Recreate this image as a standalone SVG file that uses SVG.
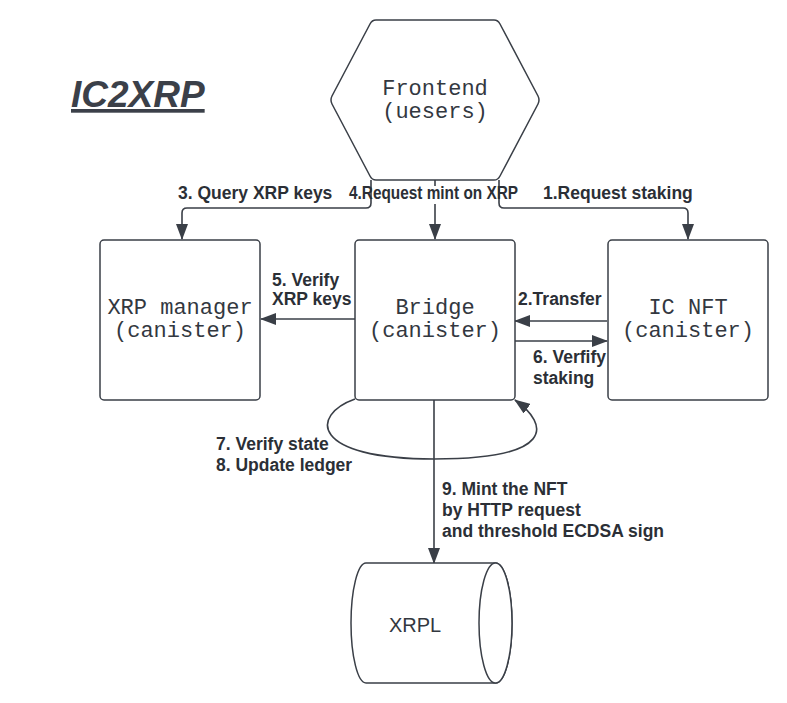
<svg xmlns="http://www.w3.org/2000/svg" width="787" height="703" viewBox="0 0 787 703">
<style>
  .shape { fill: #ffffff; stroke: #3a3f47; stroke-width: 1.5; }
  .node-text { font-family: "Liberation Mono", "DejaVu Sans Mono", monospace; font-size: 22px; fill: #33383f; text-anchor: middle; }
  .lbl { font-family: "Liberation Sans", Arial, sans-serif; font-weight: bold; font-size: 17.5px; fill: #2b2f36; }
  .conn { fill: none; stroke: #3a3f47; stroke-width: 1.6; }
</style>
<defs>
  <marker id="arrow" viewBox="0 0 16 12" refX="15" refY="6" markerWidth="16" markerHeight="12" markerUnits="userSpaceOnUse" orient="auto">
    <path d="M0,0 L16,6 L0,12 Z" fill="#3a3f47"/>
  </marker>
</defs>
<rect width="787" height="703" fill="#ffffff"/>

<text id="title" x="71" y="107" font-family="Liberation Sans, Arial, sans-serif" font-weight="bold" font-style="italic" font-size="37" fill="#3b4049" text-decoration="underline">IC2XRP</text>

<g id="connectors">
  <path class="conn" d="M371,180 V203 Q371,208 366,208 H187 Q182,208 182,213 V239" marker-end="url(#arrow)"/>
  <path class="conn" d="M435,180 V186"/>
  <path class="conn" d="M435,204 V239" marker-end="url(#arrow)"/>
  <path class="conn" d="M499,180 V203 Q499,208 504,208 H683 Q688,208 688,213 V239" marker-end="url(#arrow)"/>
  <path class="conn" d="M355,319 H261" marker-end="url(#arrow)"/>
  <path class="conn" d="M607,321 H515" marker-end="url(#arrow)"/>
  <path class="conn" d="M515,341 H607" marker-end="url(#arrow)"/>
  <path class="conn" d="M355,399 C310,415 310,459 434,459 C555,459 550,425 515,400" marker-end="url(#arrow)"/>
  <path class="conn" d="M434,400 V563" marker-end="url(#arrow)"/>
  <text class="lbl" x="178" y="199">3. Query XRP keys</text>
  <text class="lbl" x="349" y="199" font-size="15" textLength="169" lengthAdjust="spacingAndGlyphs">4.Request mint on XRP</text>
  <text class="lbl" x="543" y="199">1.Request staking</text>
  <text class="lbl" x="272" y="286" font-size="15">5. Verify</text>
  <text class="lbl" x="272" y="305" font-size="15">XRP keys</text>
  <text class="lbl" x="518" y="305">2.Transfer</text>
  <text class="lbl" x="533" y="363">6. Verfify</text>
  <text class="lbl" x="533" y="384">staking</text>
  <text class="lbl" x="216" y="450">7. Verify state</text>
  <text class="lbl" x="216" y="471">8. Update ledger</text>
  <text class="lbl" x="442" y="495">9. Mint the NFT</text>
  <text class="lbl" x="442" y="516">by HTTP request</text>
  <text class="lbl" x="442" y="537">and threshold ECDSA sign</text>
</g>

<g id="frontend">
  <path class="shape" stroke-linejoin="round" d="M376,20 H494 Q498,20 500,24 L538,96 Q540,100 538,104 L500,176 Q498,180 494,180 H376 Q372,180 370,176 L332,104 Q330,100 332,96 L370,24 Q372,20 376,20 Z"/>
  <text class="node-text" x="435" y="95">Frontend</text>
  <text class="node-text" x="435" y="118">(uesers)</text>
</g>

<g id="xrp-manager">
  <rect class="shape" x="100" y="240" width="160" height="160" rx="4"/>
  <text class="node-text" x="180" y="314">XRP manager</text>
  <text class="node-text" x="180" y="337">(canister)</text>
</g>

<g id="bridge">
  <rect class="shape" x="355" y="240" width="160" height="160" rx="4"/>
  <text class="node-text" x="435" y="314">Bridge</text>
  <text class="node-text" x="435" y="337">(canister)</text>
</g>

<g id="ic-nft">
  <rect class="shape" x="608" y="240" width="160" height="160" rx="4"/>
  <text class="node-text" x="688" y="314">IC NFT</text>
  <text class="node-text" x="688" y="337">(canister)</text>
</g>

<g id="xrpl">
  <path class="shape" d="M366,563 H495.5 A16.5,60 0 0 1 495.5,683 H366 A15,60 0 0 1 366,563 Z"/>
  <ellipse class="shape" cx="495.5" cy="623" rx="16.5" ry="60"/>
  <text x="415" y="632" font-family="Liberation Sans, Arial, sans-serif" font-size="20" fill="#33383f" text-anchor="middle">XRPL</text>
</g>
</svg>
